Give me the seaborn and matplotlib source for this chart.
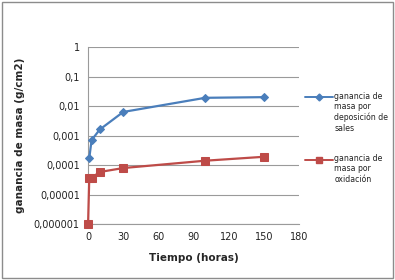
import matplotlib
matplotlib.use("Agg")
import matplotlib.pyplot as plt
import matplotlib.ticker as mticker
from matplotlib.lines import Line2D
from matplotlib.patches import Rectangle
import seaborn as sns
import pandas as pd

# data
t_sales = [1, 3, 10, 30, 100, 150]
m_sales = [0.00017, 0.0007, 0.0016, 0.0063, 0.019, 0.02]
t_ox = [0, 1, 3, 10, 30, 100, 150]
m_ox = [0.000001, 0.000036, 0.000037, 0.000058, 0.000079, 0.00014, 0.00019]
x_ticks = [0, 30, 60, 90, 120, 150, 180]
y_ticks = [1e-6, 1e-5, 1e-4, 1e-3, 1e-2, 1e-1, 1]
y_labels = ["0,000001", "0,00001", "0,0001", "0,001", "0,01", "0,1", "1"]
lab_sales = "ganancia de\nmasa por\ndeposición de\nsales"
lab_ox = "ganancia de\nmasa por\noxidación"

blue = "#4A7EBB"
red = "#BE4B48"

sns.set_style("white")
plt.rcParams["font.family"] = ["DejaVu Sans"]

fig = plt.figure(figsize=(3.95, 2.8), dpi=100)
ax = fig.add_axes([0.223, 0.2, 0.534, 0.632])

df_s = pd.DataFrame({"t": t_sales, "m": m_sales})
df_o = pd.DataFrame({"t": t_ox, "m": m_ox})
sns.lineplot(data=df_s, x="t", y="m", ax=ax, color=blue, lw=1.6, marker="D",
             markersize=4, markeredgecolor=blue, estimator=None, sort=False)
sns.lineplot(data=df_o, x="t", y="m", ax=ax, color=red, lw=1.6, marker="s",
             markersize=5.8, markeredgecolor=red, estimator=None, sort=False)
for ln in ax.lines:
    ln.set_clip_on(False)
    ln.set_zorder(3)

ax.set_yscale("log")
ax.set_ylim(1e-6, 1)
ax.set_xlim(0, 180)
ax.set_yticks(y_ticks)
ax.set_yticklabels(y_labels)
ax.yaxis.set_minor_locator(mticker.NullLocator())
ax.set_xticks(x_ticks)
ax.tick_params(labelsize=7, length=0, pad=6, colors="#222222")
ax.grid(axis="y", color="#9a9a9a", lw=0.8)
ax.set_axisbelow(True)
for s in ["top", "right"]:
    ax.spines[s].set_visible(False)
ax.spines["bottom"].set_color("#9a9a9a")
ax.spines["bottom"].set_linewidth(0.8)
ax.spines["left"].set_color("#9a9a9a")
ax.spines["left"].set_linewidth(0.8)

ax.set_xlabel("Tiempo (horas)", fontsize=7.5, fontweight="bold", labelpad=8)
ax.set_ylabel("ganancia de masa (g/cm2)", fontsize=7.5, fontweight="bold", labelpad=6)

# legend drawn by hand so the handles line up with the first text line
for y0, col, mk, ms, lab in [(0.652, blue, "D", 3.5, lab_sales),
                             (0.43, red, "s", 4.5, lab_ox)]:
    fig.add_artist(Line2D([0.772, 0.843], [y0, y0], transform=fig.transFigure,
                          color=col, lw=1.4))
    fig.add_artist(Line2D([0.807], [y0], transform=fig.transFigure, color=col,
                          marker=mk, markersize=ms, lw=0))
    fig.text(0.846, y0 + 0.02, lab, fontsize=5.6, va="top", ha="left",
             color="#222222", linespacing=1.2)

fig.add_artist(Rectangle((0.005, 0.007), 0.99, 0.986, transform=fig.transFigure,
                         fill=False, edgecolor="#8c8c8c", lw=1))

fig.savefig("out.png", dpi=100)
